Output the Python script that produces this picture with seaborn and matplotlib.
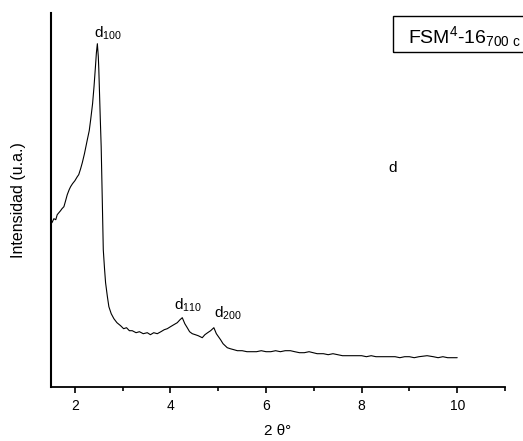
import matplotlib
matplotlib.use("Agg")
import matplotlib.pyplot as plt
import seaborn as sns
import pandas as pd
from matplotlib.patches import Rectangle
from matplotlib.ticker import MultipleLocator

# ---- data (arbitrary intensity units) ----
two_theta = [1.52, 1.56, 1.60, 1.63, 1.665, 1.70, 1.73, 1.77, 1.80, 1.84, 1.88, 1.91, 1.95,
             2.00, 2.05, 2.08, 2.12, 2.155, 2.20, 2.23, 2.26, 2.30, 2.33, 2.37, 2.40, 2.43,
             2.45, 2.47, 2.49, 2.50, 2.53, 2.55, 2.573, 2.594, 2.62, 2.642, 2.68, 2.711,
             2.76, 2.816, 2.88, 2.956, 3.02, 3.08, 3.14, 3.20, 3.28, 3.35, 3.43, 3.515,
             3.58, 3.65, 3.724, 3.80, 3.87, 3.933, 4.00, 4.07, 4.142, 4.20, 4.247, 4.30,
             4.351, 4.40, 4.456, 4.52, 4.58, 4.665, 4.72, 4.778, 4.84, 4.908, 4.96, 5.048,
             5.10, 5.188, 5.25, 5.326, 5.40, 5.50, 5.60, 5.675, 5.80, 5.90, 6.00, 6.10,
             6.20, 6.30, 6.40, 6.51, 6.60, 6.70, 6.80, 6.90, 7.07, 7.20, 7.30, 7.40, 7.50,
             7.60, 7.77, 7.90, 8.00, 8.10, 8.20, 8.30, 8.46, 8.60, 8.70, 8.80, 8.90, 9.00,
             9.10, 9.20, 9.37, 9.50, 9.60, 9.70, 9.80, 9.90, 10.0]
intensity = [164, 168, 167, 172, 174, 176, 178, 180, 185, 192, 197, 200, 203,
             206, 210, 212, 218, 224, 233, 240, 247, 256, 267, 283, 300, 320,
             334, 343, 330, 318, 270, 240, 187, 137, 118, 104, 90, 80,
             73, 68, 64, 61, 58, 59, 56, 56, 54, 55, 53, 54,
             52, 54, 53, 55, 57, 58, 60, 62, 64, 67, 69, 63,
             59, 55, 53, 52, 51, 49, 52, 54, 56, 59, 53, 47,
             43, 39, 38, 37, 36, 36, 35, 35, 35, 36, 35, 35,
             36, 35, 36, 36, 35, 34, 34, 35, 33, 33, 32, 33, 32,
             31, 31, 31, 31, 30, 31, 30, 30, 30, 30, 29, 30, 30,
             29, 30, 31, 30, 29, 30, 29, 29, 29]

x_ticks = [2, 4, 6, 8, 10]
x_tick_labels = ["2", "4", "6", "8", "10"]
peak_labels = [r"d$_{100}$", r"d$_{110}$", r"d$_{200}$", "d"]
peak_label_x = [2.39, 4.065, 4.905, 8.56]
peak_label_y = [349, 77, 69, 215]
sample_label = r"FSM$^{4}$-16$_{700\ c}$"

df = pd.DataFrame({"two_theta": two_theta, "intensity": intensity})

sns.set_theme(style="ticks")
plt.rcParams["font.family"] = ["Liberation Sans", "DejaVu Sans"]
plt.rcParams["mathtext.default"] = "regular"

fig = plt.figure(figsize=(5.23, 4.41), dpi=100)
ax = fig.add_axes([51 / 523, 1 - 386.7 / 441, (505 - 51) / 523, (386.7 - 12.7) / 441])

sns.lineplot(data=df, x="two_theta", y="intensity", ax=ax, color="black",
             linewidth=0.8, sort=False, estimator=None)

ax.set_xlim(1.5, 11.0)
ax.set_ylim(0, 374)
ax.set_xticks(x_ticks)
ax.set_xticklabels(x_tick_labels)
ax.xaxis.set_minor_locator(MultipleLocator(1))
ax.set_yticks([])
ax.tick_params(axis="x", which="major", direction="out", length=4, width=1.2,
               labelsize=10, pad=5, color="black", labelcolor="black")
ax.tick_params(axis="x", which="minor", direction="out", length=3, width=1.2, color="black")

for s in ["top", "right"]:
    ax.spines[s].set_visible(False)
ax.spines["left"].set_linewidth(1.5)
ax.spines["bottom"].set_linewidth(1.3)
ax.spines["left"].set_color("black")
ax.spines["bottom"].set_color("black")

ax.set_xlabel("2 θ°", fontsize=11, labelpad=8, color="black")
ax.set_ylabel("Intensidad (u.a.)", fontsize=11.5, labelpad=18, color="black")

for lab, lx, ly in zip(peak_labels, peak_label_x, peak_label_y):
    ax.text(lx, ly, lab, fontsize=11, ha="left", va="baseline", color="black")

# sample label box (upper right, clipped by figure edge)
fig.patches.append(Rectangle((393 / 523, 1 - 52.3 / 441), 0.3, 36.6 / 441,
                             transform=fig.transFigure, fill=False,
                             edgecolor="black", linewidth=1.0))
fig.text(407.5 / 523, 1 - 43 / 441, sample_label, fontsize=14, ha="left",
         va="baseline", color="black")

fig.savefig("out.png", dpi=100)
